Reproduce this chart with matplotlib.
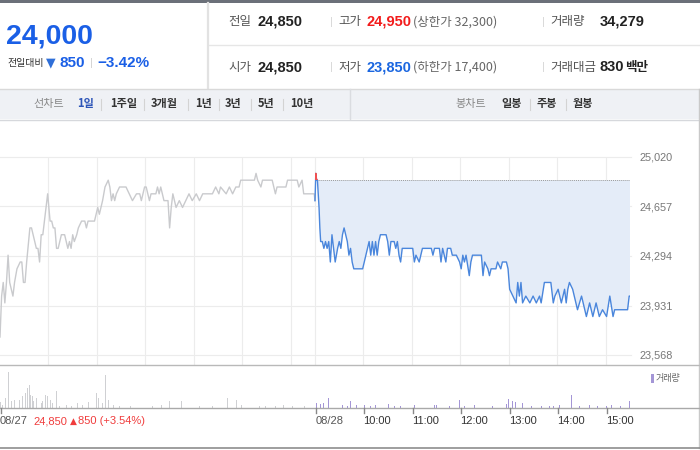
import matplotlib
matplotlib.use("Agg")
import matplotlib.pyplot as plt
from matplotlib.patches import Rectangle
from matplotlib.lines import Line2D
from matplotlib.ticker import FuncFormatter

KR = ['Noto Sans CJK KR', 'DejaVu Sans']
NUM = ['Liberation Sans', 'Noto Sans CJK KR', 'DejaVu Sans']

# header values
cur_price = "24,000"
change = "850"
change_pct = "-3.42%"
prev_close = 24850
info_row1 = [("전일", "24,850", "#222222", ""), ("고가", "24,950", "#f21b1b", "(상한가 32,300)"),
             ("거래량", "34,279", "#222222", "")]
info_row2 = [("시가", "24,850", "#222222", ""), ("저가", "23,850", "#1a66e0", "(하한가 17,400)"),
             ("거래대금", "830 백만", "#222222", "")]
line_periods = ["1일", "1주일", "3개월", "1년", "3년", "5년", "10년"]
candle_periods = ["일봉", "주봉", "월봉"]

# price axis labels
y_ticks = [25020, 24657, 24294, 23931, 23568]

# minutes since 09:00, 08/27 (previous day)
prev_min = [0, 2, 4, 6, 8, 10, 12, 16, 18, 21, 25, 27, 29, 31, 33, 37, 39, 41, 45, 47, 49, 51, 53, 56, 59,
            62, 64, 66, 68, 70, 72, 74, 76, 80, 82, 84, 86, 88, 90, 92, 95, 97, 101, 105, 107, 109, 117,
            119, 121, 123, 125, 127, 130, 134, 136, 138, 140, 142, 144, 148, 156, 160, 164, 169, 173, 175,
            177, 179, 181, 183, 185, 187, 193, 195, 197, 199, 201, 203, 208, 210, 212, 214, 216, 218, 222,
            226, 230, 234, 238, 243, 247, 251, 263, 267, 271, 273, 280, 284, 288, 292, 296, 298, 315, 317,
            319, 323, 325, 337, 341, 343, 354, 356, 368, 370, 374, 376, 389, 390]
prev_price = [23700, 24000, 24100, 23950, 24100, 24300, 24100, 24000, 24100, 24200, 24250, 24250, 24100,
              24100, 24250, 24500, 24500, 24450, 24350, 24350, 24250, 24450, 24450, 24600, 24750, 24550,
              24550, 24500, 24500, 24350, 24350, 24400, 24450, 24450, 24400, 24350, 24400, 24350, 24450,
              24400, 24450, 24500, 24550, 24550, 24500, 24550, 24550, 24600, 24650, 24600, 24650, 24700,
              24800, 24850, 24800, 24700, 24750, 24700, 24750, 24800, 24800, 24750, 24700, 24750, 24750,
              24700, 24750, 24800, 24800, 24750, 24700, 24750, 24750, 24800, 24750, 24800, 24750, 24700,
              24700, 24500, 24650, 24750, 24700, 24650, 24700, 24650, 24700, 24750, 24700, 24750, 24700,
              24750, 24750, 24800, 24750, 24800, 24750, 24800, 24750, 24800, 24800, 24850, 24850, 24900,
              24850, 24800, 24850, 24850, 24750, 24800, 24800, 24850, 24850, 24800, 24850, 24750, 24750,
              24700]

# minutes since 09:00, 08/28 (today)
today_min = [0, 1, 2, 3, 5, 6, 7, 9, 11, 13, 15, 17, 19, 21, 23, 25, 28, 30, 32, 34, 36, 38, 40, 42, 44,
             46, 48, 59, 61, 63, 65, 67, 69, 71, 73, 75, 77, 79, 81, 88, 90, 92, 94, 98, 100, 102, 104,
             106, 108, 121, 123, 125, 129, 131, 133, 144, 146, 148, 154, 156, 158, 162, 164, 168, 170, 175,
             179, 181, 183, 185, 187, 191, 193, 195, 206, 208, 210, 214, 216, 218, 224, 226, 230, 232, 237,
             239, 241, 245, 249, 251, 253, 255, 257, 261, 266, 270, 274, 278, 280, 284, 292, 295, 297, 301,
             305, 309, 311, 313, 315, 319, 323, 325, 330, 334, 336, 340, 344, 348, 352, 356, 361, 365, 369,
             371, 375, 387, 389, 390]
today_price = [24700, 24900, 24850, 24850, 24650, 24500, 24400, 24400, 24350, 24400, 24350, 24400, 24250,
               24450, 24350, 24250, 24350, 24400, 24350, 24450, 24500, 24450, 24400, 24300, 24350, 24250,
               24200, 24200, 24250, 24300, 24350, 24400, 24300, 24400, 24300, 24400, 24300, 24400, 24450,
               24450, 24400, 24300, 24400, 24400, 24350, 24400, 24300, 24250, 24350, 24350, 24250, 24300,
               24250, 24300, 24350, 24350, 24300, 24350, 24350, 24250, 24350, 24250, 24350, 24350, 24300,
               24300, 24250, 24200, 24300, 24250, 24300, 24150, 24250, 24300, 24300, 24150, 24250, 24200,
               24150, 24200, 24200, 24250, 24200, 24250, 24250, 24200, 24050, 24000, 23950, 24100, 24000,
               24100, 23950, 24000, 23950, 24000, 23950, 24000, 23950, 24100, 24100, 23950, 24000, 24050,
               23950, 24050, 23950, 24050, 24100, 24050, 23950, 23900, 24000, 23900, 23850, 23950, 23850,
               23950, 23850, 23900, 23850, 24000, 23850, 23900, 23900, 23900, 24000, 24000]

# volume (shares) per minute
prev_vol_min = [1, 3, 7, 11, 14, 18, 21, 24, 26, 28, 32, 34, 36, 38, 40, 42, 45, 47, 51, 53, 56, 59, 62,
                65, 70, 74, 82, 88, 96, 102, 110, 119, 122, 127, 131, 134, 140, 148, 162, 177, 189, 200,
                210, 225, 234, 247, 263, 282, 293, 299, 312, 321, 329, 341, 351, 362, 377]
prev_vol = [340, 200, 600, 2160, 400, 500, 600, 500, 600, 700, 900, 1200, 1400, 800, 700, 400, 600, 400,
            300, 400, 800, 700, 500, 300, 1040, 100, 160, 100, 300, 200, 360, 900, 600, 300, 2000, 500,
            160, 100, 100, 100, 100, 200, 440, 440, 100, 100, 100, 600, 500, 200, 100, 140, 100, 100, 160,
            100, 100]
today_vol_min = [0, 2, 7, 11, 17, 21, 26, 34, 40, 44, 51, 57, 61, 69, 75, 83, 91, 98, 106, 123, 148, 150,
                 166, 179, 185, 198, 208, 220, 237, 240, 244, 248, 257, 268, 280, 290, 295, 303, 318, 328,
                 340, 350, 361, 367, 378, 389]
today_vol = [600, 300, 240, 300, 600, 200, 160, 160, 100, 400, 200, 160, 200, 100, 160, 100, 240, 100, 100,
             160, 200, 160, 100, 500, 100, 160, 100, 100, 240, 560, 440, 360, 300, 100, 100, 100, 100, 200,
             760, 100, 200, 100, 100, 160, 100, 400]

hour_labels = ["10:00", "11:00", "12:00", "13:00", "14:00", "15:00"]

W, H = 700, 450
fig = plt.figure(figsize=(7, 4.5), dpi=100)
fig.patch.set_facecolor("white")


def fx(x):
    return x / W


def fy(y):
    return 1 - y / H


def box(x0, y0, x1, y1, color, z=0):
    fig.patches.append(Rectangle((fx(x0), fy(y1)), fx(x1) - fx(x0), fy(y0) - fy(y1),
                                 transform=fig.transFigure, facecolor=color, edgecolor="none", zorder=z))


def hline(x0, x1, y, color, lw=1.0):
    fig.add_artist(Line2D([fx(x0), fx(x1)], [fy(y), fy(y)], color=color, lw=lw))


def vline(x, y0, y1, color, lw=1.0):
    fig.add_artist(Line2D([fx(x), fx(x)], [fy(y0), fy(y1)], color=color, lw=lw))


def txt(x, y, s, size, color, weight="normal", family=KR, ha="left"):
    return fig.text(fx(x), fy(y), s, fontsize=size, color=color, fontweight=weight,
                    family=family, ha=ha, va="center")


# ---- header ----
box(0, 0, W, 3, "#6b7079")
hline(208, W, 45, "#e6e6e6")
vline(207.5, 3, 88, "#e2e2e2", lw=1.6)
hline(0, W, 88.5, "#d9d9d9")

txt(6, 36, cur_price, 20.5, "#1a5fe6", "bold", NUM)
txt(7, 63, "전일대비", 7.2, "#333333")
txt(46, 63, "▼", 9, "#2f6fd8", family=['DejaVu Sans'])
txt(59, 63, change, 11, "#1a5fe6", "bold", NUM)
txt(90, 63, "|", 8, "#d0d0d0", family=NUM)
txt(97, 63, change_pct.replace("-", "−"), 11, "#1a5fe6", "bold", NUM)

for row_y, row in [(22, info_row1), (67, info_row2)]:
    col_x = [228, 338, 550]
    for i, (label, val, vcolor, extra) in enumerate(row):
        x = col_x[i]
        txt(x, row_y, label, 9, "#555555")
        if i > 0:
            txt(x - 8, row_y, "|", 8, "#d5d5d5", family=NUM)
        vx = x + 29 if i < 2 else 600
        if "백만" in val:
            txt(vx, row_y, val.split()[0], 10.5, vcolor, "bold", NUM)
            txt(vx + 25, row_y, val.split()[1], 9, vcolor, "bold", KR)
        else:
            txt(vx, row_y, val, 10.5, vcolor, "bold", NUM)
        if extra:
            txt(vx + 46, row_y, extra, 9, "#666666")

# ---- toolbar ----
box(0, 89, W, 119, "#eff1f5")
hline(0, W, 119.5, "#d6d8dc")
vline(350, 89, 119, "#dadce0")
vline(698.5, 89, 448, "#c9c9c9")
txt(33, 104, "선차트", 8, "#888888")
tb_x = [77, 110, 151, 195, 225, 258, 290]
sep_x = [101, 144, 188, 219, 251, 283]
for i, (lab, x) in enumerate(zip(line_periods, tb_x)):
    c = "#2d55b8" if i == 0 else "#333333"
    txt(x, 104, lab, 8, c, "bold")
for x in sep_x:
    vline(x, 99, 110, "#d3d3d3", lw=0.8)
txt(455, 104, "봉차트", 8, "#888888")
for lab, x in zip(candle_periods, [501, 537, 573]):
    txt(x, 104, lab, 8, "#333333", "bold")
for x in [530, 566]:
    vline(x, 99, 110, "#d3d3d3", lw=0.8)

# ---- price panel ----
px_per_unit = (355 - 157) / (y_ticks[0] - y_ticks[-1])
ymin = y_ticks[-1] - (365 - 355) / px_per_unit
ax = fig.add_axes([0, fy(365), fx(630), (365 - 157) / H])
ax.set_xlim(0, 780)
ax.set_ylim(ymin, y_ticks[0])
for s in ax.spines.values():
    s.set_visible(False)
ax.set_xticks([])
ax.yaxis.tick_right()
ax.set_yticks(y_ticks)
ax.yaxis.set_major_formatter(FuncFormatter(lambda v, p: f"{int(round(v)):,}"))
ax.tick_params(axis="y", length=0, pad=7, labelsize=7.8, labelcolor="#777777")
for lab in ax.get_yticklabels():
    lab.set_family(NUM)
for v in y_ticks:
    ax.plot([0, 781], [v, v], color="#ececec", lw=0.8, zorder=0, clip_on=False)
for m in list(range(60, 390, 60)) + [390] + list(range(450, 780, 60)):
    ax.axvline(m, color="#ececec", lw=0.8, zorder=0)

tx = [390 + m for m in today_min]
ax.fill_between(tx, today_price, prev_close, where=[p <= prev_close for p in today_price],
                interpolate=True, color="#e4ecf8", lw=0, zorder=1)
ax.fill_between(tx, today_price, prev_close, where=[p >= prev_close for p in today_price],
                interpolate=True, color="#f8d8d8", lw=0, zorder=1)
ax.plot([390, 780], [prev_close, prev_close], color="#9a9a9a", lw=0.7, ls=(0, (1, 1)), zorder=2)
ax.plot(prev_min, prev_price, color="#c9cacd", lw=1.0, zorder=3)
ax.plot(tx, today_price, color="#4a86dc", lw=1.0, zorder=3)
red = ax.plot(tx, today_price, color="#f05050", lw=1.0, zorder=4)[0]
clip = Rectangle((390, prev_close), 400, 1000, transform=ax.transData)
red.set_clip_path(clip)

hline(0, W, 365, "#b9b9b9")

# ---- volume panel ----
axv = fig.add_axes([0, fy(408), fx(630), (408 - 365) / H])
axv.set_xlim(0, 780)
axv.set_ylim(0, 2580)
axv.axis("off")
axv.bar(prev_vol_min, prev_vol, width=1.1, color="#cfd0d3", lw=0)
axv.bar([390 + m for m in today_vol_min], today_vol, width=1.1, color="#a496d6", lw=0)
hline(0, W, 408, "#a9a9a9")
box(651, 374, 654, 383, "#a496d6")
txt(656, 378.5, "거래량", 6.5, "#666666")

# x ticks and labels
tick_px = [0.5, 316] + [316 + (i + 1) * 630 / 780 * 60 for i in range(len(hour_labels))]
for x in tick_px:
    vline(x, 408, 413, "#888888")
txt(0, 421, "08/27", 8, "#555555", family=NUM)
txt(33, 421, f"{prev_close:,}", 8, "#f03c3c", family=NUM)
txt(70, 421, "▲", 6.5, "#f03c3c", family=['DejaVu Sans'])
txt(78, 421, "850 (+3.54%)", 8, "#f03c3c", family=NUM)
txt(316, 421, "08/28", 8, "#555555", family=NUM)
for lab, x in zip(hour_labels, tick_px[2:]):
    txt(x - 1, 421, lab, 8, "#333333", family=NUM)

hline(0, W, 448, "#8d8d8d", lw=1.2)

fig.savefig("out.png", dpi=100, facecolor="white")
